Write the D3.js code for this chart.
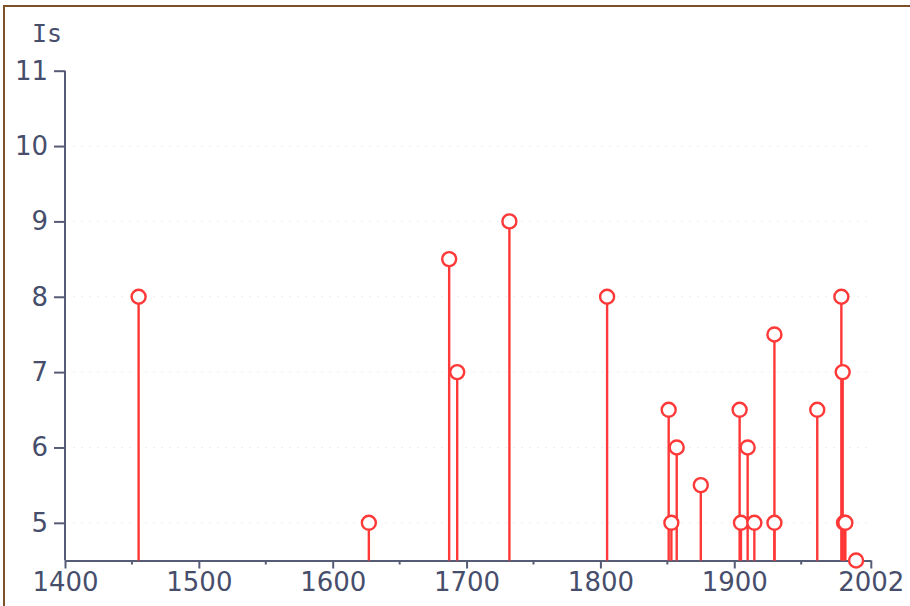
<!DOCTYPE html>
<html><head><meta charset="utf-8">
<script src="https://cdn.jsdelivr.net/npm/d3@7"></script>
<style>
html,body{margin:0;padding:0;background:#fff;}
svg{display:block;}
text{font-family:"DejaVu Sans",Verdana,sans-serif;}
</style></head>
<body>
<svg id="chart" width="910" height="606"></svg>
<script>
// Data
const years  = [1455, 1627, 1687, 1693, 1732, 1805, 1851, 1853, 1857, 1875, 1904, 1905, 1910, 1915, 1930, 1930, 1962, 1980, 1981, 1982, 1983, 1991];
const values = [8, 5, 8.5, 7, 9, 8, 6.5, 5, 6, 5.5, 6.5, 5, 6, 5, 7.5, 5, 6.5, 8, 7, 5, 5, 4.5];
const xMajorTicks = [1400, 1500, 1600, 1700, 1800, 1900, 2002];
const xMinorTicks = [1450, 1550, 1650, 1750, 1850, 1950];
const yTicks = [5, 6, 7, 8, 9, 10, 11];
const yLabel = "Is";

const svg = d3.select("#chart");
const axisColor = "#565c76";
const textColor = "#474e6c";
const red = "#ff3838";

// frame border
svg.append("rect").attr("x", 4).attr("y", 6).attr("width", 920).attr("height", 620)
  .attr("fill", "none").attr("stroke", "#7d5128").attr("stroke-width", 2);

const x = d3.scaleLinear().domain([1400, 2002]).range([65, 870.8]);
const y = d3.scaleLinear().domain([4.5, 11]).range([560.5, 70.7]);

// faint dotted gridlines
svg.append("g").selectAll("line").data(yTicks.filter(t => t < 11)).join("line")
  .attr("x1", x(1400)).attr("x2", x(2002))
  .attr("y1", d => y(d)).attr("y2", d => y(d))
  .attr("stroke", "#eeeeee").attr("stroke-width", 1).attr("stroke-dasharray", "2,6");

// Y axis
const yAxis = d3.axisLeft(y).tickValues(yTicks).tickFormat(d3.format("d")).tickSize(11).tickSizeOuter(0).tickPadding(6);
const gy = svg.append("g").attr("transform", `translate(${x(1400)},0)`).call(yAxis);
gy.attr("font-size", null).attr("font-family", null);
gy.select(".domain").attr("stroke", axisColor).attr("stroke-width", 2).attr("d", `M0,${y(11)}V${y(4.5)}`);
gy.selectAll(".tick line").attr("stroke", axisColor).attr("stroke-width", 2);
gy.selectAll(".tick text").attr("fill", textColor).style("font-size", "26px").style("font-family", "DejaVu Sans");

// X axis
const xAxis = d3.axisBottom(x).tickValues(xMajorTicks).tickFormat(d3.format("d")).tickSize(8).tickSizeOuter(0).tickPadding(4);
const gx = svg.append("g").attr("transform", `translate(0,${y(4.5)})`).call(xAxis);
gx.attr("font-size", null).attr("font-family", null);
gx.select(".domain").attr("stroke", axisColor).attr("stroke-width", 2);
gx.selectAll(".tick line").attr("stroke", axisColor).attr("stroke-width", 2);
gx.selectAll(".tick text").attr("fill", textColor).style("font-size", "26px").style("font-family", "DejaVu Sans");
gx.append("g").selectAll("line").data(xMinorTicks).join("line")
  .attr("x1", d => x(d)).attr("x2", d => x(d)).attr("y1", 0).attr("y2", 4)
  .attr("stroke", axisColor).attr("stroke-width", 2);

// axis label
svg.append("text").attr("x", 32).attr("y", 42).attr("fill", textColor)
  .style("font-family", "DejaVu Sans Mono").style("font-size", "25px").text(yLabel);

const pts = years.map((yr, i) => ({yr, v: values[i]}));

// stems
svg.append("g").selectAll("line").data(pts).join("line")
  .attr("x1", d => x(d.yr)).attr("x2", d => x(d.yr))
  .attr("y1", y(4.5)).attr("y2", d => y(d.v))
  .attr("stroke", red).attr("stroke-width", 2.4);

// markers
svg.append("g").selectAll("circle").data(pts).join("circle")
  .attr("cx", d => x(d.yr)).attr("cy", d => y(d.v)).attr("r", 7)
  .attr("fill", "#fff").attr("stroke", red).attr("stroke-width", 2.4);
</script>
</body></html>
